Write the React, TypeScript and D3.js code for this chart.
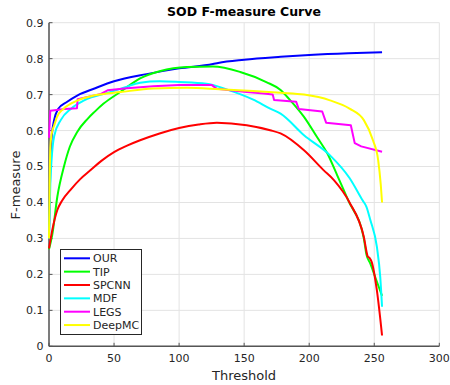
import * as d3 from 'd3';

// [threshold, F-measure]
const ourData: [number, number][] = [[0,0.3],[1,0.5],[2,0.58],[4,0.63],[7,0.66],[14,0.68],[22,0.698],[35,0.717],[50,0.737],[75,0.757],[100,0.773],[126,0.785],[130,0.788],[150,0.797],[178,0.805],[200,0.81],[230,0.815],[256,0.818]];
const tipData: [number, number][] = [[0,0.27],[2.5,0.31],[6.4,0.416],[11.5,0.5],[16,0.555],[21.8,0.597],[29.5,0.632],[35,0.652],[42,0.675],[55,0.708],[70,0.745],[85,0.765],[106,0.777],[126,0.778],[147,0.763],[167,0.735],[178,0.713],[185,0.686],[196,0.638],[206,0.582],[214,0.536],[221,0.48],[230,0.406],[242,0.3],[244,0.255],[247,0.23],[251,0.19],[256,0.14]];
const spcnnData: [number, number][] = [[0,0.272],[2.5,0.323],[6.4,0.379],[10,0.405],[16.7,0.436],[24,0.465],[32,0.49],[40,0.515],[50,0.54],[60,0.558],[70,0.573],[85,0.592],[100,0.607],[115,0.617],[129,0.622],[152,0.615],[170,0.601],[178,0.592],[196,0.545],[211,0.49],[219,0.462],[231,0.4],[242,0.304],[245,0.25],[246.5,0.245],[248,0.235],[252,0.156],[256,0.03]];
const mdfData: [number, number][] = [[0,0.3],[1,0.45],[2,0.52],[4,0.585],[9,0.629],[17,0.661],[27,0.684],[47,0.707],[58,0.72],[70,0.733],[85,0.737],[100,0.735],[121,0.73],[137,0.714],[157,0.686],[170,0.661],[178,0.647],[196,0.587],[216,0.531],[231,0.468],[241,0.406],[244,0.388],[247,0.351],[252,0.277],[254.6,0.193],[256,0.11]];
const legsData: [number, number][] = [[0,0.58],[1,0.655],[12,0.66],[21.5,0.662],[22,0.687],[40,0.702],[45,0.712],[60,0.718],[80,0.723],[100,0.727],[125,0.727],[129,0.716],[150,0.708],[165,0.703],[172,0.7],[173,0.685],[190,0.68],[192,0.66],[210,0.653],[213,0.622],[232,0.615],[235,0.565],[240,0.556],[256,0.541]];
const deepmcData: [number, number][] = [[0,0.3],[1,0.55],[2,0.59],[4,0.615],[6,0.637],[11,0.66],[22,0.684],[35,0.698],[55,0.707],[80,0.717],[106,0.719],[131,0.715],[157,0.71],[178,0.705],[196,0.7],[216,0.684],[231,0.661],[242,0.629],[249,0.573],[253,0.518],[255,0.45],[256,0.4]];

const seriesNames = ['OUR', 'TIP', 'SPCNN', 'MDF', 'LEGS', 'DeepMC'];
const seriesColors = ['#0000ff', '#00ff00', '#ff0000', '#00ffff', '#ff00ff', '#ffff00'];
const seriesData = [ourData, tipData, spcnnData, mdfData, legsData, deepmcData];
const seriesStepped = [false, false, false, false, true, false];

const xTicks = [0, 50, 100, 150, 200, 250, 300];
const yTicks = [0, 0.1, 0.2, 0.3, 0.4, 0.5, 0.6, 0.7, 0.8, 0.9];

export default function App() {
  const width = 450;
  const height = 385;
  const x = d3.scaleLinear().domain([0, 300]).range([49, 439.3]);
  const y = d3.scaleLinear().domain([0, 0.9]).range([346.3, 22.7]);
  const smooth = d3.line<[number, number]>().x((d) => x(d[0])).y((d) => y(d[1])).curve(d3.curveMonotoneX);
  const straight = d3.line<[number, number]>().x((d) => x(d[0])).y((d) => y(d[1]));
  const textColor = '#262626';
  const font = 'DejaVu Sans, sans-serif';

  return (
    <svg width={width} height={height} style={{ position: 'fixed', left: 0, top: 0, background: '#fff' }} fontFamily={font}>
      <rect x={0} y={0} width={width} height={height} fill="#fff" />
      {/* grid */}
      {xTicks.map((t) => (
        <line key={'gx' + t} x1={x(t)} x2={x(t)} y1={y(0)} y2={y(0.9)} stroke="#e3e3e3" strokeWidth={1} />
      ))}
      {yTicks.map((t) => (
        <line key={'gy' + t} x1={x(0)} x2={x(300)} y1={y(t)} y2={y(t)} stroke="#e3e3e3" strokeWidth={1} />
      ))}
      {/* axes */}
      <line x1={x(0)} x2={x(0)} y1={y(0)} y2={y(0.9)} stroke="#555" strokeWidth={1.5} />
      <line x1={x(0)} x2={x(300)} y1={y(0)} y2={y(0)} stroke="#555" strokeWidth={1.5} />
      {xTicks.map((t) => (
        <g key={'tx' + t}>
          <line x1={x(t)} x2={x(t)} y1={y(0)} y2={y(0) - 3.5} stroke="#555" strokeWidth={1} />
          <text x={x(t)} y={362} textAnchor="middle" fontSize={11} fill={textColor}>{t}</text>
        </g>
      ))}
      {yTicks.map((t) => (
        <g key={'ty' + t}>
          <line x1={x(0)} x2={x(0) + 3.5} y1={y(t)} y2={y(t)} stroke="#555" strokeWidth={1} />
          <text x={43.5} y={y(t)} dy="0.36em" textAnchor="end" fontSize={11} fill={textColor}>{d3.format('~g')(t)}</text>
        </g>
      ))}
      {/* curves */}
      {seriesData.map((d, i) => (
        <path key={seriesNames[i]} d={(seriesStepped[i] ? straight(d) : smooth(d)) || ''} fill="none" stroke={seriesColors[i]} strokeWidth={2} strokeLinejoin="round" />
      ))}
      {/* labels */}
      <text x={244} y={16} textAnchor="middle" fontSize={12.5} fontWeight="bold" fill="#000">SOD F-measure Curve</text>
      <text x={244} y={380} textAnchor="middle" fontSize={13} fill={textColor}>Threshold</text>
      <text transform={`translate(20,${185}) rotate(-90)`} textAnchor="middle" fontSize={13} fill={textColor}>F-measure</text>
      {/* legend */}
      <rect x={60.5} y={249.5} width={81} height={85} fill="#fff" stroke="#262626" strokeWidth={1} />
      {seriesNames.map((n, i) => {
        const ly = 258.3 + i * 13.35;
        return (
          <g key={'lg' + n}>
            <line x1={64} x2={90} y1={ly} y2={ly} stroke={seriesColors[i]} strokeWidth={2} />
            <text x={93} y={ly} dy="0.36em" fontSize={11} fill={textColor}>{n}</text>
          </g>
        );
      })}
    </svg>
  );
}
